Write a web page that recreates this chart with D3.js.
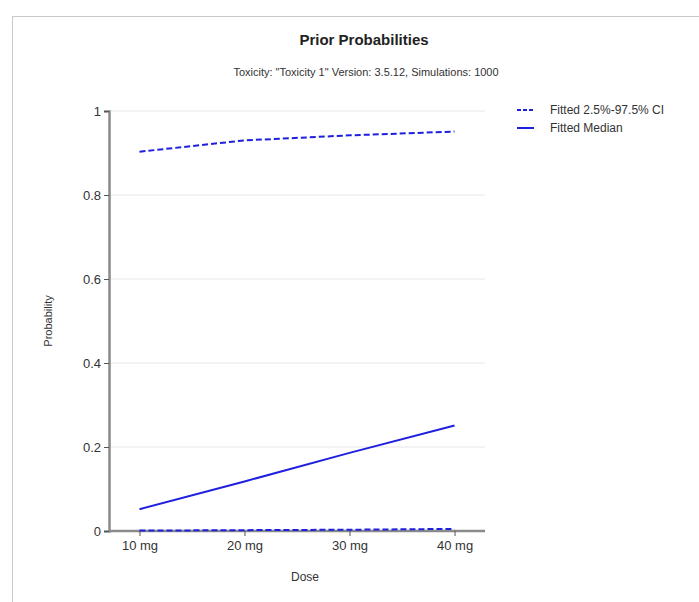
<!DOCTYPE html>
<html>
<head>
<meta charset="utf-8">
<script src="https://cdn.jsdelivr.net/npm/d3@7"></script>
<style>
  body { margin: 0; background: #fff; }
  svg { font-family: "Liberation Sans", Arial, sans-serif; }
</style>
</head>
<body>
<svg id="chart" width="699" height="602"></svg>
<script>
'use strict';

var doses = ["10 mg", "20 mg", "30 mg", "40 mg"];
var upperCI = [0.903, 0.930, 0.942, 0.951];
var median = [0.052, 0.118, 0.186, 0.251];
var lowerCI = [0.001, 0.002, 0.003, 0.005];
var yTicks = [0, 0.2, 0.4, 0.6, 0.8, 1];
var legendItems = ["Fitted 2.5%-97.5% CI", "Fitted Median"];

var svg = d3.select("#chart");
var plotLeft = 109, plotRight = 485, plotTop = 111, plotBottom = 531;

// outer frame
svg.append("rect")
   .attr("x", 12.5).attr("y", 16.5)
   .attr("width", 720).attr("height", 620)
   .attr("fill", "none").attr("stroke", "#c8c8c8");

svg.append("text")
   .attr("x", 364).attr("y", 45)
   .attr("text-anchor", "middle")
   .attr("font-size", 15).attr("font-weight", "bold").attr("fill", "#222")
   .text("Prior Probabilities");
svg.append("text")
   .attr("x", 366).attr("y", 76)
   .attr("text-anchor", "middle")
   .attr("font-size", 11).attr("fill", "#333")
   .text("Toxicity: \"Toxicity 1\" Version: 3.5.12, Simulations: 1000");

var x = d3.scalePoint().domain(doses).range([plotLeft, plotRight]).padding(0.29);
var y = d3.scaleLinear().domain([0, 1]).range([plotBottom, plotTop]);

// gridlines
svg.append("g").selectAll("line").data(yTicks.slice(1))
   .enter().append("line")
   .attr("x1", plotLeft).attr("x2", plotRight)
   .attr("y1", function(d) { return y(d); }).attr("y2", function(d) { return y(d); })
   .attr("stroke", "#e6e6e6");

var yAxis = svg.append("g")
   .attr("transform", "translate(" + plotLeft + ",0)")
   .call(d3.axisLeft(y).tickValues(yTicks).tickSize(5).tickPadding(3)
      .tickFormat(function(d) { return d3.format("~g")(d); }));
var xAxis = svg.append("g")
   .attr("transform", "translate(0," + plotBottom + ")")
   .call(d3.axisBottom(x).tickSize(5).tickPadding(5));

[yAxis, xAxis].forEach(function(a) {
  a.select(".domain").attr("stroke", "#8a8a8a").attr("stroke-width", 2.5);
  a.selectAll(".tick line").attr("stroke", "#555");
  a.selectAll(".tick text").attr("font-size", 13).attr("fill", "#333")
   .attr("font-family", "\"Liberation Sans\", Arial, sans-serif");
});
xAxis.select(".domain").attr("d", "M" + plotLeft + ",0H" + plotRight);

svg.append("text")
   .attr("transform", "translate(52," + (plotTop + plotBottom) / 2 + ") rotate(-90)")
   .attr("text-anchor", "middle").attr("font-size", 11).attr("fill", "#333")
   .text("Probability");
svg.append("text")
   .attr("x", 305).attr("y", 581)
   .attr("text-anchor", "middle").attr("font-size", 12).attr("fill", "#333")
   .text("Dose");

var line = d3.line()
   .x(function(d, i) { return x(doses[i]); })
   .y(function(d) { return y(d); });

var series = [
  { values: upperCI, dash: "6,3" },
  { values: lowerCI, dash: "6,3" },
  { values: median, dash: null }
];
series.forEach(function(s) {
  svg.append("path")
     .datum(s.values)
     .attr("d", line)
     .attr("fill", "none")
     .attr("stroke", "#1f1fe0")
     .attr("stroke-width", 2)
     .attr("stroke-dasharray", s.dash);
});

// legend
var legend = svg.append("g").selectAll("g").data(legendItems)
   .enter().append("g")
   .attr("transform", function(d, i) { return "translate(517," + (110 + i * 18) + ")"; });
legend.append("line")
   .attr("x1", 0).attr("x2", 17)
   .attr("stroke", "#1f1fe0").attr("stroke-width", 2)
   .attr("stroke-dasharray", function(d, i) { return i === 0 ? "4,2" : null; });
legend.append("text")
   .attr("x", 33).attr("y", 4)
   .attr("font-size", 12).attr("fill", "#333")
   .text(function(d) { return d; });
</script>
</body>
</html>
